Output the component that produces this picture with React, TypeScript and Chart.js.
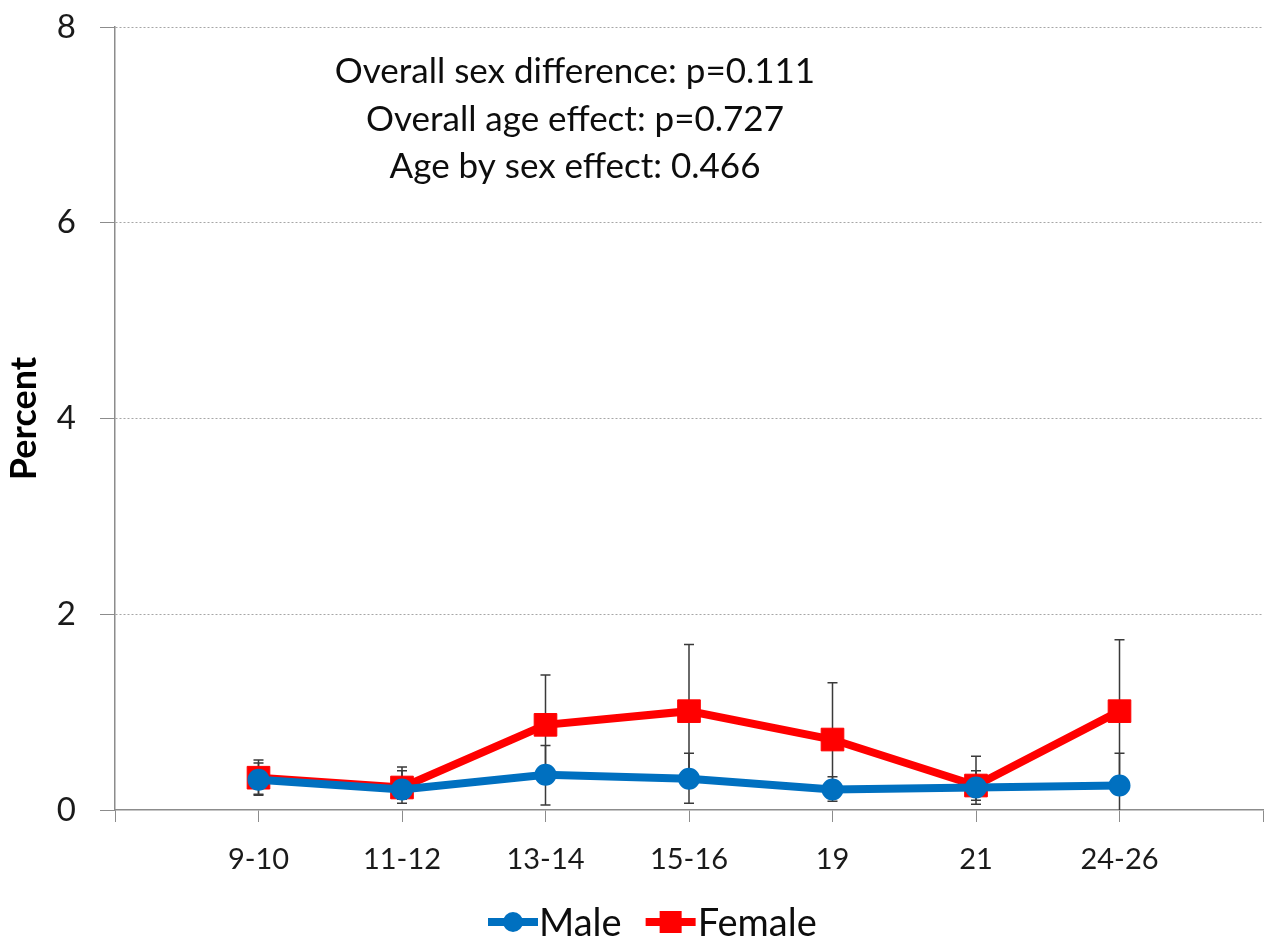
import React, { useEffect, useRef } from "react";
import { Chart, registerables } from "chart.js";

Chart.register(...registerables);

const categories = ["9-10", "11-12", "13-14", "15-16", "19", "21", "24-26"];
const seriesNames = ["Male", "Female"];
const maleValues = [0.31, 0.21, 0.36, 0.32, 0.21, 0.23, 0.25];
const femaleValues = [0.33, 0.23, 0.87, 1.01, 0.72, 0.25, 1.01];
const maleLow = [0.15, 0.07, 0.05, 0.07, 0.09, 0.06, -0.08];
const maleHigh = [0.48, 0.4, 0.66, 0.58, 0.34, 0.4, 0.58];
const femaleLow = [0.16, 0.11, 0.38, 0.33, 0.14, 0.1, 0.28];
const femaleHigh = [0.51, 0.44, 1.38, 1.69, 1.3, 0.55, 1.74];
const yMin = 0;
const yMax = 8;
const yStep = 2;
const annotationLines = [
  "Overall sex difference: p=0.111",
  "Overall age effect: p=0.727",
  "Age by sex effect: 0.466",
];
const yTitle = "Percent";

const MALE_COLOR = "#0070C0";
const FEMALE_COLOR = "#FF0000";
const FONT = "Lato, 'Noto Sans', sans-serif";

export default function App() {
  const ref = useRef<HTMLCanvasElement>(null);

  useEffect(() => {
    const canvas = ref.current;
    if (!canvas) return;
    Chart.defaults.font.family = FONT;

    const labels = ["", ...categories, ""];
    const pad = (arr: number[]) => [null, ...arr, null];

    const errorBars = {
      id: "errorBars",
      beforeDatasetsDraw(chart: any) {
        const { ctx, chartArea } = chart;
        const xs = chart.scales.x;
        const ys = chart.scales.y;
        ctx.save();
        ctx.beginPath();
        ctx.rect(chartArea.left, chartArea.top, chartArea.right - chartArea.left, chartArea.bottom - chartArea.top);
        ctx.clip();
        ctx.strokeStyle = "#3a3a3a";
        ctx.lineWidth = 1.5;
        const sets = [
          [maleLow, maleHigh],
          [femaleLow, femaleHigh],
        ];
        sets.forEach(([lo, hi]) => {
          for (let i = 0; i < lo.length; i++) {
            const x = xs.getPixelForValue(i + 1);
            const y1 = ys.getPixelForValue(lo[i]);
            const y2 = ys.getPixelForValue(hi[i]);
            ctx.beginPath();
            ctx.moveTo(x, y1);
            ctx.lineTo(x, y2);
            ctx.moveTo(x - 5, y1);
            ctx.lineTo(x + 5, y1);
            ctx.moveTo(x - 5, y2);
            ctx.lineTo(x + 5, y2);
            ctx.stroke();
          }
        });
        ctx.restore();
      },
    };

    const annotation = {
      id: "annotation",
      afterDraw(chart: any) {
        const { ctx } = chart;
        ctx.save();
        ctx.fillStyle = "#0d0d0d";
        ctx.font = `35px ${FONT}`;
        ctx.textAlign = "center";
        ctx.textBaseline = "alphabetic";
        const baselines = [83, 131, 178];
        annotationLines.forEach((t, i) => ctx.fillText(t, 575, baselines[i]));
        ctx.restore();
      },
    };

    const legend = {
      id: "customLegend",
      afterDraw(chart: any) {
        const { ctx } = chart;
        ctx.save();
        const y = 922;
        ctx.font = `38px ${FONT}`;
        ctx.textBaseline = "middle";
        ctx.fillStyle = "#0d0d0d";
        let x = 488;
        // Male
        ctx.strokeStyle = MALE_COLOR;
        ctx.lineWidth = 8;
        ctx.beginPath();
        ctx.moveTo(x, y);
        ctx.lineTo(x + 50, y);
        ctx.stroke();
        ctx.fillStyle = MALE_COLOR;
        ctx.beginPath();
        ctx.arc(x + 25, y, 10, 0, Math.PI * 2);
        ctx.fill();
        ctx.fillStyle = "#0d0d0d";
        ctx.fillText(seriesNames[0], x + 51, y + 2);
        x = x + 51 + ctx.measureText(seriesNames[0]).width + 24;
        // Female
        ctx.strokeStyle = FEMALE_COLOR;
        ctx.beginPath();
        ctx.moveTo(x, y);
        ctx.lineTo(x + 50, y);
        ctx.stroke();
        ctx.fillStyle = FEMALE_COLOR;
        ctx.fillRect(x + 25 - 11, y - 11, 22, 22);
        ctx.fillStyle = "#0d0d0d";
        ctx.fillText(seriesNames[1], x + 52, y + 2);
        ctx.restore();
      },
    };

    const chart = new Chart(canvas, {
      type: "line",
      data: {
        labels,
        datasets: [
          {
            label: seriesNames[0],
            data: pad(maleValues) as any,
            borderColor: MALE_COLOR,
            backgroundColor: MALE_COLOR,
            borderWidth: 8,
            pointStyle: "circle",
            pointRadius: 10,
            pointBorderWidth: 2,
            pointBackgroundColor: MALE_COLOR,
            pointBorderColor: MALE_COLOR,
            tension: 0,
          },
          {
            label: seriesNames[1],
            data: pad(femaleValues) as any,
            borderColor: FEMALE_COLOR,
            backgroundColor: FEMALE_COLOR,
            borderWidth: 8,
            pointStyle: "rect",
            pointRadius: 16,
            pointBorderWidth: 1,
            pointBackgroundColor: FEMALE_COLOR,
            pointBorderColor: FEMALE_COLOR,
            tension: 0,
          },
        ],
      },
      options: {
        responsive: false,
        animation: false,
        layout: { autoPadding: false, padding: { top: 27, right: 8, bottom: 74, left: 0 } },
        plugins: {
          legend: { display: false },
          tooltip: { enabled: false },
          title: { display: false },
        },
        scales: {
          x: {
            type: "category",
            offset: false,
            ticks: {
              color: "#1a1a1a",
              font: { size: 29 },
              padding: 20,
              maxRotation: 0,
              autoSkip: false,
            },
            grid: {
              drawOnChartArea: false,
              drawTicks: true,
              tickLength: 12,
              tickColor: "#8c8c8c",
              color: "#8c8c8c",
            },
            border: { display: true, color: "#8c8c8c", width: 1.5 },
            afterFit: (s: any) => {
              s.height = 60;
              s.paddingLeft = 0;
              s.paddingRight = 0;
            },
          },
          y: {
            min: yMin,
            max: yMax,
            ticks: {
              stepSize: yStep,
              padding: 24,
              color: "#1a1a1a",
              font: { size: 33 },
            },
            grid: {
              color: (c: any) => (c.tick && c.tick.value === 0 ? "rgba(0,0,0,0)" : "#a6a6a6"),
              tickColor: "#8c8c8c",
              tickLength: 15,
              lineWidth: 1,
            },
            border: { display: true, color: "#8c8c8c", width: 1.5, dash: [2, 2] },
            title: {
              display: true,
              text: yTitle,
              color: "#000",
              font: { size: 36, weight: "bold" },
              padding: { top: 3, bottom: 0 },
            },
            afterFit: (s: any) => {
              s.width = 115;
              s.paddingTop = 0;
              s.paddingBottom = 0;
            },
          },
        },
      } as any,
      plugins: [errorBars, annotation, legend],
    });

    return () => chart.destroy();
  }, []);

  return (
    <div style={{ position: "fixed", left: 0, top: 0, width: 1271, height: 944, background: "#fff" }}>
      <canvas ref={ref} width={1271} height={944} />
    </div>
  );
}
